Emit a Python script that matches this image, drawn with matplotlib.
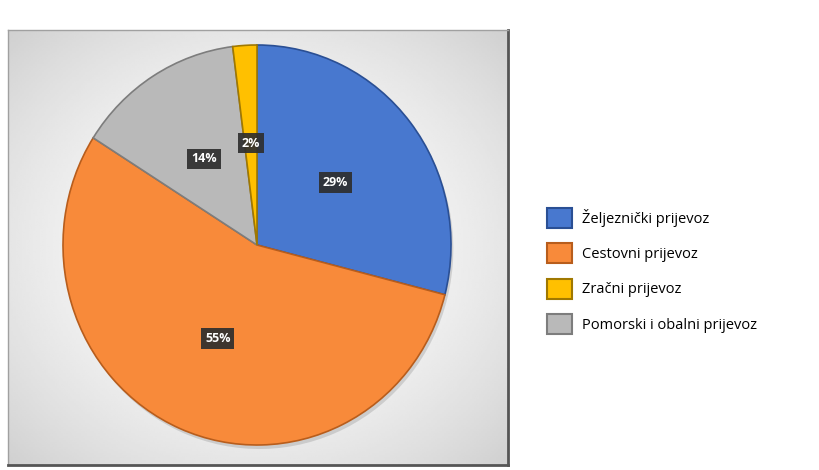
import numpy as np
import matplotlib.pyplot as plt
from matplotlib.patches import Rectangle

# podaci (redoslijed u krugu, u smjeru kazaljke od vrha)
kategorije = ['Željeznički prijevoz', 'Cestovni prijevoz', 'Pomorski i obalni prijevoz', 'Zračni prijevoz']
udjeli = [29, 55, 14, 2]
boje = ['#4878CF', '#F88A3A', '#B9B9B9', '#FFC000']
rubovi = ['#2a4f94', '#b85d1c', '#7d7d7d', '#a07800']
# redoslijed u legendi
legenda_red = ['Željeznički prijevoz', 'Cestovni prijevoz', 'Zračni prijevoz', 'Pomorski i obalni prijevoz']

W, H = 820, 470
fig = plt.figure(figsize=(W / 100, H / 100), dpi=100)
fig.patch.set_facecolor('white')

# pozadina grafa s radijalnim prijelazom
bg = fig.add_axes([8 / W, (H - 465) / H, 500 / W, 435 / H])
yy, xx = np.mgrid[-1:1:200j, -1:1:230j]
rr = np.sqrt(xx ** 2 + yy ** 2) / np.sqrt(2)
grad = 0.995 - 0.18 * rr ** 1.8
bg.imshow(grad, cmap='gray', vmin=0, vmax=1, aspect='auto', extent=[0, 1, 0, 1])
bg.set_xticks([])
bg.set_yticks([])
for s in bg.spines.values():
    s.set_color('#a0a0a0')
    s.set_linewidth(1.0)
bg.spines['right'].set_color('#555555')
bg.spines['bottom'].set_color('#555555')
bg.spines['right'].set_linewidth(2)
bg.spines['bottom'].set_linewidth(2)

# krug (u originalu blago izduzen)
Rx, Ry = 194, 200
cx, cy = 257, 245
ax = fig.add_axes([(cx - Rx) / W, (H - cy - Ry) / H, 2 * Rx / W, 2 * Ry / H])
ax.set_facecolor('none')

# sjena
sh = ax.pie(udjeli, startangle=90, counterclock=False, radius=1.0, center=(0.012, -0.02),
            colors=['#888888'] * 4, wedgeprops=dict(linewidth=0, alpha=0.3))

wedges, txt, autotexts = ax.pie(
    udjeli, startangle=90, counterclock=False, colors=boje,
    autopct='%1.0f%%', pctdistance=0.51,
    wedgeprops=dict(linewidth=1.2),
    textprops=dict(color='white', fontsize=9, fontweight='bold', family='Open Sans'))
for w, e in zip(wedges, rubovi):
    w.set_edgecolor(e)
for t in autotexts:
    t.set_bbox(dict(boxstyle='square,pad=0.3', facecolor='#2e2e2e', edgecolor='none', alpha=0.92))
ax.set_xlim(-1.0, 1.0)
ax.set_ylim(-1.0, 1.0)
ax.set_aspect('auto')
ax.axis('off')

# legenda
mapa = dict(zip(kategorije, zip(boje, rubovi)))
handles = [Rectangle((0, 0), 1, 1, facecolor=mapa[k][0], edgecolor=mapa[k][1], linewidth=1.5)
           for k in legenda_red]
fig.legend(handles, legenda_red, loc='upper left', bbox_to_anchor=(547 / W, (H - 208) / H),
           frameon=False, handlelength=1.7, handleheight=1.7,
           handletextpad=0.7, labelspacing=1.08, borderpad=0, borderaxespad=0,
           prop=dict(family='Open Sans', size=10.5))

fig.savefig('out.png', dpi=100)
